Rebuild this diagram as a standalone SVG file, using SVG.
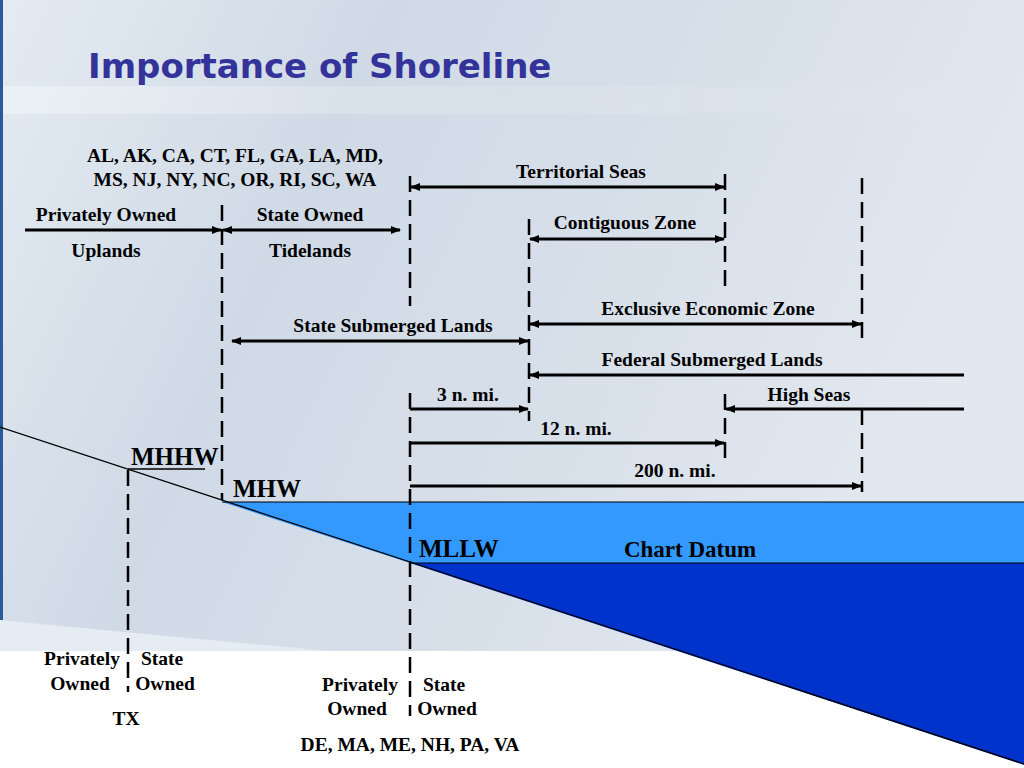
<svg xmlns="http://www.w3.org/2000/svg" width="1024" height="768" viewBox="0 0 1024 768">
<defs>
<linearGradient id="bg" x1="0" y1="0" x2="1" y2="0.3">
<stop offset="0" stop-color="#e4ebf2"/>
<stop offset="0.35" stop-color="#d0dae6"/>
<stop offset="0.7" stop-color="#d8e0ea"/>
<stop offset="1" stop-color="#e2e8ef"/>
</linearGradient>
<linearGradient id="band" x1="0" y1="0" x2="1" y2="0">
<stop offset="0" stop-color="#ffffff" stop-opacity="0.35"/>
<stop offset="0.5" stop-color="#ffffff" stop-opacity="0.12"/>
<stop offset="1" stop-color="#ffffff" stop-opacity="0"/>
</linearGradient>
<marker id="ah" viewBox="0 0 10 8" refX="9" refY="4" markerWidth="10" markerHeight="8" markerUnits="userSpaceOnUse" orient="auto-start-reverse">
<path d="M0,0 L10,4 L0,8 z" fill="#000"/>
</marker>
<style>
.t{font-family:"Liberation Serif","Times New Roman",serif;font-weight:bold;font-size:19.5px;fill:#000;text-anchor:middle}
.cd{font-size:23px}
.big{font-family:"Liberation Serif","Times New Roman",serif;font-weight:bold;font-size:25px;fill:#000}
.dash{stroke:#000;stroke-width:2.5;stroke-dasharray:16 8;fill:none}
.arr{stroke:#000;stroke-width:3;fill:none}
</style>
</defs>
<rect width="1024" height="768" fill="#ffffff"/>
<rect x="0" y="0" width="1024" height="651" fill="url(#bg)"/>
<path d="M0,620 Q120,632 330,651 H0 Z" fill="#e6ecf3"/>
<rect x="0" y="86" width="1024" height="28" fill="url(#band)"/>
<rect x="0" y="0" width="3" height="620" fill="#2a5a9a"/>
<text x="88" y="78" font-family="'DejaVu Sans',Verdana,sans-serif" font-weight="bold" font-size="34" fill="#333399">Importance of Shoreline</text>

<g id="water">
<polygon points="222,502 1024,502 1024,563 410,563" fill="#3399ff"/>
<polygon points="410,563 1024,563 1024,765" fill="#0033cc"/>
<line x1="222" y1="502" x2="1024" y2="502" stroke="#000" stroke-width="1.2"/>
<line x1="410" y1="563" x2="1024" y2="563" stroke="#000" stroke-width="1"/>
<line x1="0" y1="427" x2="1024" y2="764" stroke="#000" stroke-width="1.3"/>
<line x1="128" y1="469" x2="205" y2="469" stroke="#000" stroke-width="1.3"/>
</g>

<g id="boundaries">
<line class="dash" x1="128" y1="470" x2="128" y2="692"/>
<line class="dash" x1="222" y1="205" x2="222" y2="500"/>
<line class="dash" x1="410" y1="176" x2="410" y2="306"/>
<line class="dash" x1="410" y1="393" x2="410" y2="716"/>
<line class="dash" x1="529" y1="219" x2="529" y2="421"/>
<line class="dash" x1="725" y1="174" x2="725" y2="290"/>
<line class="dash" x1="725" y1="394" x2="725" y2="460"/>
<line class="dash" x1="862" y1="178" x2="862" y2="340"/>
<line class="dash" x1="862" y1="409" x2="862" y2="492"/>
</g>

<g id="connectors">
<line class="arr" x1="25" y1="230" x2="221" y2="230" marker-end="url(#ah)"/>
<line class="arr" x1="223" y1="230" x2="400" y2="230" marker-start="url(#ah)" marker-end="url(#ah)"/>
<line class="arr" x1="411" y1="187" x2="724" y2="187" marker-start="url(#ah)" marker-end="url(#ah)"/>
<line class="arr" x1="530" y1="239" x2="724" y2="239" marker-start="url(#ah)" marker-end="url(#ah)"/>
<line class="arr" x1="232" y1="341" x2="528" y2="341" marker-start="url(#ah)" marker-end="url(#ah)"/>
<line class="arr" x1="530" y1="324" x2="861" y2="324" marker-start="url(#ah)" marker-end="url(#ah)"/>
<line class="arr" x1="530" y1="375" x2="964" y2="375" marker-start="url(#ah)"/>
<line class="arr" x1="410" y1="409" x2="528" y2="409" marker-end="url(#ah)"/>
<line class="arr" x1="726" y1="409" x2="964" y2="409" marker-start="url(#ah)"/>
<line class="arr" x1="410" y1="443" x2="724" y2="443" marker-end="url(#ah)"/>
<line class="arr" x1="410" y1="486" x2="861" y2="486" marker-end="url(#ah)"/>
</g>

<g id="labels">
<text class="t" x="235" y="162">AL, AK, CA, CT, FL, GA, LA, MD,</text>
<text class="t" x="235" y="186">MS, NJ, NY, NC, OR, RI, SC, WA</text>
<text class="t" x="106" y="221">Privately Owned</text>
<text class="t" x="106" y="257">Uplands</text>
<text class="t" x="310" y="221">State Owned</text>
<text class="t" x="310" y="257">Tidelands</text>
<text class="t" x="581" y="178">Territorial Seas</text>
<text class="t" x="625" y="229">Contiguous Zone</text>
<text class="t" x="393" y="332">State Submerged Lands</text>
<text class="t" x="708" y="315">Exclusive Economic Zone</text>
<text class="t" x="712" y="366">Federal Submerged Lands</text>
<text class="t" x="468" y="401">3 n. mi.</text>
<text class="t" x="809" y="401">High Seas</text>
<text class="t" x="576" y="435">12 n. mi.</text>
<text class="t" x="675" y="477">200 n. mi.</text>
<text class="big" x="131" y="465">MHHW</text>
<text class="big" x="233" y="497">MHW</text>
<text class="big" x="419" y="557">MLLW</text>
<text class="t cd" x="690" y="557">Chart Datum</text>
<text class="t" x="82" y="665">Privately</text>
<text class="t" x="80" y="690">Owned</text>
<text class="t" x="162" y="665">State</text>
<text class="t" x="165" y="690">Owned</text>
<text class="t" x="126" y="725">TX</text>
<text class="t" x="360" y="691">Privately</text>
<text class="t" x="357" y="715">Owned</text>
<text class="t" x="444" y="691">State</text>
<text class="t" x="447" y="715">Owned</text>
<text class="t" x="410" y="751">DE, MA, ME, NH, PA, VA</text>
</g>
</svg>
